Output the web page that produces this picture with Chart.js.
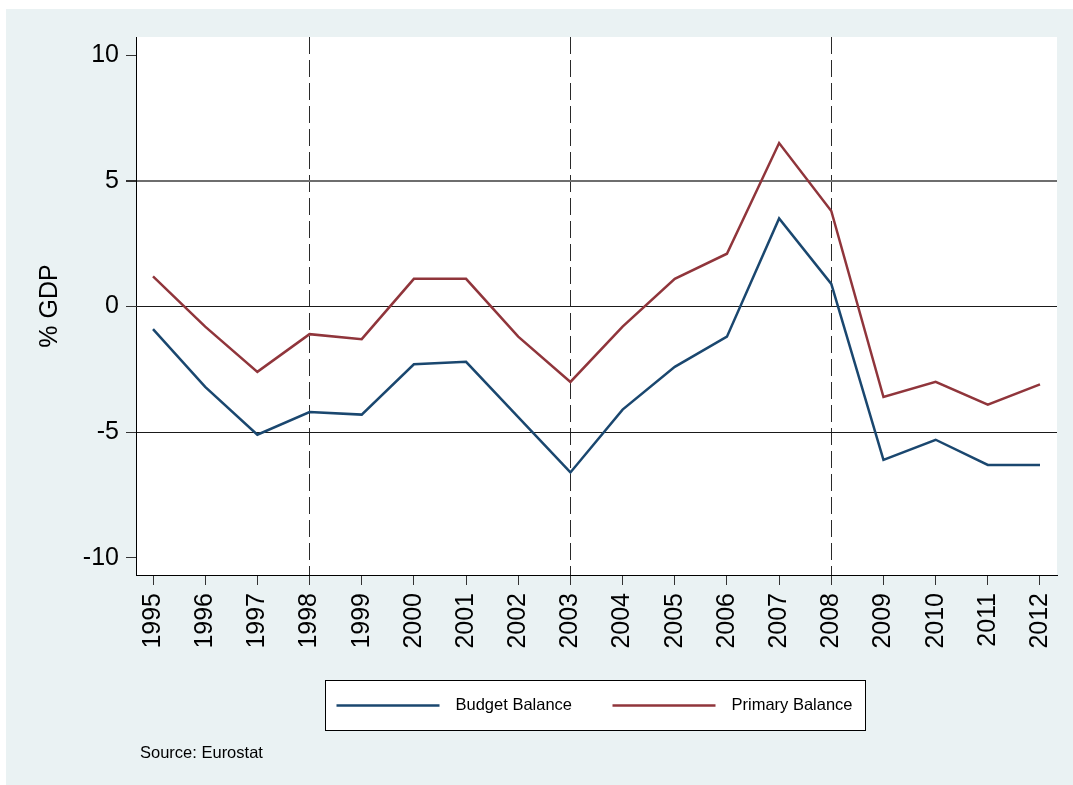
<!DOCTYPE html>
<html>
<head>
<meta charset="utf-8">
<script src="https://cdn.jsdelivr.net/npm/chart.js@4.4.1/dist/chart.umd.min.js"></script>
<style>
  html, body { margin: 0; padding: 0; background: #fff; }
  #wrap { width: 1073px; height: 785px; }
</style>
</head>
<body>
<div id="wrap"><canvas id="balanceChart" width="1073" height="785"></canvas></div>
<script>
  // Data
  const years = [1995, 1996, 1997, 1998, 1999, 2000, 2001, 2002, 2003, 2004, 2005, 2006, 2007, 2008, 2009, 2010, 2011, 2012];
  const budgetBalance = [-0.9, -3.2, -5.1, -4.2, -4.3, -2.3, -2.2, -4.4, -6.6, -4.1, -2.4, -1.2, 3.5, 0.9, -6.1, -5.3, -6.3, -6.3];
  const primaryBalance = [1.2, -0.8, -2.6, -1.1, -1.3, 1.1, 1.1, -1.2, -3.0, -0.8, 1.1, 2.1, 6.5, 3.8, -3.6, -3.0, -3.9, -3.1];
  const yTicks = [-10, -5, 0, 5, 10];
  const markerYears = [1998, 2003, 2008];
  const sourceNote = "Source: Eurostat";

  const FONT = "'Liberation Sans', Arial, sans-serif";
  const toPoints = (vals) => years.map((yr, i) => ({ x: yr, y: vals[i] }));

  // Stata-like background, plot region, legend box and source note
  const stataFrame = {
    id: "stataFrame",
    beforeDraw(chart) {
      const { ctx, width, height, chartArea } = chart;
      ctx.save();
      ctx.fillStyle = "#ffffff";
      ctx.fillRect(0, 0, width, height);
      ctx.fillStyle = "#eaf2f3";
      ctx.fillRect(6, 9, width - 6, height - 9);
      ctx.fillStyle = "#ffffff";
      ctx.fillRect(chartArea.left, chartArea.top, chartArea.right - chartArea.left, chartArea.bottom - chartArea.top);
      ctx.restore();
    },
    afterDraw(chart) {
      const { ctx, chartArea } = chart;
      const boxW = 540, boxH = 50;
      const boxX = Math.round((chartArea.left + chartArea.right) / 2 - 272) + 0.5;
      const boxY = 680.5;
      ctx.save();
      ctx.fillStyle = "#ffffff";
      ctx.fillRect(boxX, boxY, boxW, boxH);
      ctx.strokeStyle = "#000000";
      ctx.lineWidth = 1;
      ctx.strokeRect(boxX, boxY, boxW, boxH);

      ctx.font = "16.5px " + FONT;
      ctx.textBaseline = "middle";
      ctx.fillStyle = "#000000";
      chart.data.datasets.forEach((ds, i) => {
        const x0 = boxX + 11 + i * 276;
        const y = boxY + boxH / 2;
        ctx.strokeStyle = ds.borderColor;
        ctx.lineWidth = 2.5;
        ctx.beginPath();
        ctx.moveTo(x0, y);
        ctx.lineTo(x0 + 103, y);
        ctx.stroke();
        ctx.fillText(ds.label, x0 + 119, y);
      });

      ctx.font = "16.5px " + FONT;
      ctx.fillText(sourceNote, 140, 753);
      ctx.restore();
    },
  };

  const ctx = document.getElementById("balanceChart").getContext("2d");
  const balanceChart = new Chart(ctx, {
    type: "line",
    data: {
      datasets: [
        {
          label: "Budget Balance",
          data: toPoints(budgetBalance),
          borderColor: "#1a476f",
          borderWidth: 2.5,
          pointRadius: 0,
          tension: 0,
        },
        {
          label: "Primary Balance",
          data: toPoints(primaryBalance),
          borderColor: "#90353b",
          borderWidth: 2.5,
          pointRadius: 0,
          tension: 0,
        },
      ],
    },
    options: {
      responsive: false,
      devicePixelRatio: 1,
      animation: false,
      layout: {
        padding: { top: 37, right: 16, left: 0, bottom: 0 },
      },
      plugins: {
        legend: { display: false },
        tooltip: { enabled: false },
      },
      scales: {
        x: {
          type: "linear",
          min: 1994.674,
          max: 2012.326,
          afterBuildTicks: (scale) => {
            scale.ticks = years.map((v) => ({ value: v }));
          },
          afterFit: (scale) => {
            scale.height = 210;
            scale.paddingLeft = 0;
            scale.paddingRight = 0;
          },
          grid: {
            color: (c) => (c.tick && markerYears.includes(c.tick.value) ? "#2a2a2a" : "rgba(0,0,0,0)"),
            lineWidth: 1,
            tickColor: "#333333",
            tickLength: 10,
          },
          border: {
            color: "#000000",
            width: 1,
            dash: [17, 6],
          },
          ticks: {
            autoSkip: false,
            minRotation: 90,
            maxRotation: 90,
            padding: 8,
            color: "#000000",
            font: { family: FONT, size: 25 },
            callback: (v) => String(v),
          },
        },
        y: {
          min: -10.68,
          max: 10.72,
          afterBuildTicks: (scale) => {
            scale.ticks = yTicks.map((v) => ({ value: v }));
          },
          afterFit: (scale) => {
            scale.width = 136;
            scale.paddingTop = 0;
            scale.paddingBottom = 0;
          },
          grid: {
            color: (c) => {
              if (!c.tick || Math.abs(c.tick.value) === 10) return "rgba(0,0,0,0)";
              return c.tick.value === 5 ? "#6e6e6e" : "#1a1a1a";
            },
            lineWidth: (c) => (c.tick && c.tick.value === 5 ? 2 : 1),
            tickColor: "#333333",
            tickLength: 10,
          },
          border: {
            color: "#000000",
            width: 1,
          },
          ticks: {
            padding: 7,
            color: "#000000",
            font: { family: FONT, size: 25 },
          },
          title: {
            display: true,
            text: "% GDP",
            color: "#000000",
            font: { family: FONT, size: 25 },
            padding: { top: 35, bottom: 0 },
          },
        },
      },
    },
    plugins: [stataFrame],
  });
</script>
</body>
</html>
